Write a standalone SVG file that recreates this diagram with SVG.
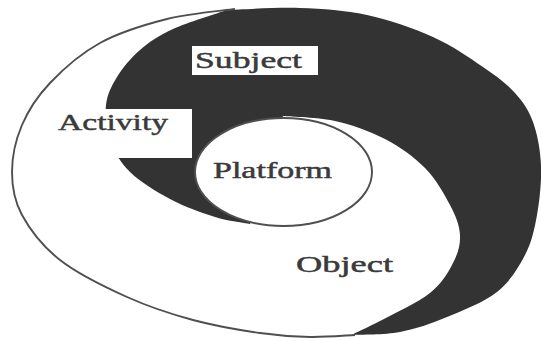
<svg xmlns="http://www.w3.org/2000/svg" width="541" height="341" viewBox="0 0 541 341">
<style>
.lbl{font-family:"Liberation Serif","Times New Roman",serif;font-size:23px;fill:#3a3a3a;stroke:#3a3a3a;stroke-width:0.45}
.box{fill:#ffffff}
.outline{fill:none;stroke:#4f4f4f;stroke-width:1.9}
</style>
<rect x="0" y="0" width="541" height="341" fill="#ffffff"/>
<g id="dark-shape">
<path fill="#333333" d="M227,10 C239.2,9.7 276.7,7.2 300,8 C323.3,8.8 344.8,10.2 367,15 C389.2,19.8 413.7,28.3 433,37 C452.3,45.7 469.3,57.7 483,67 C496.7,76.3 506.7,83.8 515,93 C523.3,102.2 528.7,110 533,122 C537.3,134 540.3,149.5 541,165 C541.7,180.5 539.7,200 537,215 C534.3,230 531.7,242.2 525,255 C518.3,267.8 510,281.7 497,292 C484,302.3 463.2,310.3 447,317 C430.8,323.7 415.8,329 400,332 C384.2,335 360,334.5 352,335 C355,332.7 366.7,328 380,321 C393.3,314 417.8,302.7 430,293 C442.2,283.3 448,272.7 453,263 C458,253.3 460.5,244.7 460,235 C459.5,225.3 455.8,216.2 450,205 C444.2,193.8 435.8,179 425,168 C414.2,157 400,146.8 385,139 C370,131.2 352,124.8 335,121 C318,117.2 291.7,116.8 283,116 L250,224 C244.2,222.8 228.3,221.2 215,217 C201.7,212.8 184.2,206.5 170,199 C155.8,191.5 140,181.8 130,172 C120,162.2 114,151.2 110,140 C106,128.8 104.8,115.5 106,105 C107.2,94.5 111.3,86.2 117,77 C122.7,67.8 130.7,58 140,50 C149.3,42 158.5,35.7 173,29 C187.5,22.3 218,13.2 227,10 Z"/>
</g>
<g id="outer-outline">
<path class="outline" d="M235,9 C223.7,10.7 189.5,13.3 167,19 C144.5,24.7 119.5,32.3 100,43 C80.5,53.7 63,69.3 50,83 C37,96.7 28.3,110.2 22,125 C15.7,139.8 12,157 12,172 C12,187 14,200.3 22,215 C30,229.7 42.5,246.3 60,260 C77.5,273.7 104.8,287 127,297 C149.2,307 170.8,314 193,320 C215.2,326 240.5,330.2 260,333 C279.5,335.8 294.2,336.7 310,337 C325.8,337.3 347.5,335.3 355,335"/>
</g>
<g id="platform">
<ellipse cx="283.5" cy="172" rx="88.5" ry="54" fill="#ffffff" stroke="#4f4f4f" stroke-width="1.9"/>
<text class="lbl" x="213" y="178" textLength="119" lengthAdjust="spacingAndGlyphs">Platform</text>
</g>
<g id="subject">
<rect class="box" x="192" y="46" width="126" height="29"/>
<text class="lbl" x="195" y="68" textLength="107" lengthAdjust="spacingAndGlyphs">Subject</text>
</g>
<g id="activity">
<rect class="box" x="57" y="109" width="135" height="49"/>
<text class="lbl" x="58" y="130" font-size="24" textLength="110" lengthAdjust="spacingAndGlyphs">Activity</text>
</g>
<g id="object">
<text class="lbl" x="296" y="272" textLength="97" lengthAdjust="spacingAndGlyphs">Object</text>
</g>
<g id="connectors"/>
</svg>
